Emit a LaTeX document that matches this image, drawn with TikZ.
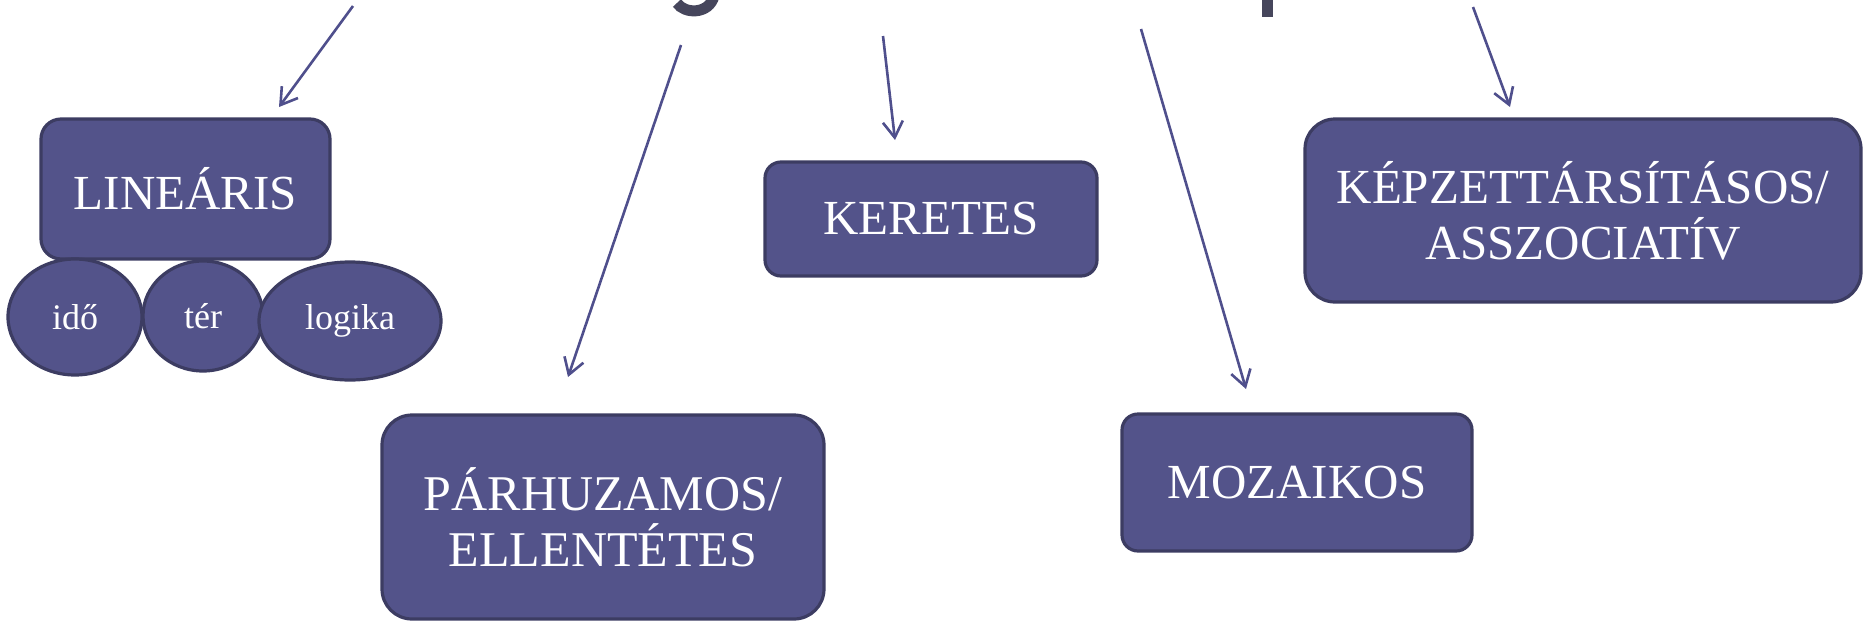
\documentclass[tikz,border=0pt]{standalone}
\usepackage{fontspec}
\setmainfont{Liberation Serif}
\usetikzlibrary{shapes.geometric,arrows.meta}
\definecolor{boxfill}{HTML}{53538A}
\definecolor{boxline}{HTML}{3C3C62}
\definecolor{arrowc}{HTML}{4F4F8C}
\definecolor{titlec}{HTML}{46465C}
\begin{document}
\begin{tikzpicture}[x=0.5pt,y=-0.5pt,
  box/.style={draw=boxline, fill=boxfill, line width=1.6pt, text=white, align=center, inner sep=0pt, font=\fontsize{24.5}{28}\selectfont},
  oval/.style={ellipse, draw=boxline, fill=boxfill, line width=1.6pt, text=white, inner sep=0pt, font=\fontsize{18}{20}\selectfont},
  conn/.style={draw=arrowc, line width=1.3pt, -{Straight Barb[length=8pt,width=10pt,line width=1.3pt]}}]
\useasboundingbox (0,0) rectangle (1864,622);
% fragments of the cut-off title
\draw[titlec, line width=5.5pt] (677,3) .. controls (684,14) and (709,15) .. (714,-4);
\fill[titlec] (1262,-1) rectangle (1273,17);
% boxes
\node[box, rounded corners=10pt, minimum width=144.5pt, minimum height=70pt] (lin) at (185.5,189) {LINEÁRIS};
\node[oval, minimum width=67pt, minimum height=58pt] (ido) at (75,317) {idő};
\node[oval, minimum width=60pt, minimum height=55pt] (ter) at (203,316) {tér};
\node[oval, minimum width=91pt, minimum height=59pt] (log) at (350,321) {logika};
\node[box, rounded corners=15pt, minimum width=221pt, minimum height=102pt, font=\fontsize{25}{28}\selectfont] (par) at (603,517) {PÁRHUZAMOS/\\ELLENTÉTES};
\node[box, rounded corners=8pt, minimum width=166pt, minimum height=57pt] (ker) at (931,219) {KERETES};
\node[box, rounded corners=8pt, minimum width=175pt, minimum height=68.5pt] (moz) at (1297,482.5) {MOZAIKOS};
\node[box, rounded corners=15pt, minimum width=278pt, minimum height=91.5pt] (kep) at (1583,210.5) {KÉPZETTÁRSÍTÁSOS/\\ASSZOCIATÍV};
% arrow ends
\coordinate (s1) at (353,6);   \coordinate (t1) at (279,107);
\coordinate (s2) at (681,45);  \coordinate (t2) at (568,377);
\coordinate (s3) at (883,36);  \coordinate (t3) at (895,140);
\coordinate (s4) at (1141,29); \coordinate (t4) at (1246,389);
\coordinate (s5) at (1473,7);  \coordinate (t5) at (1510,107);
\draw[conn] (s1) -- (t1);
\draw[conn] (s2) -- (t2);
\draw[conn] (s3) -- (t3);
\draw[conn] (s4) -- (t4);
\draw[conn] (s5) -- (t5);
\end{tikzpicture}
\end{document}
